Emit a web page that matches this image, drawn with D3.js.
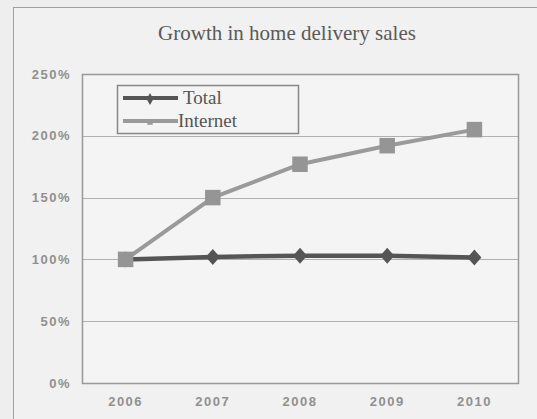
<!DOCTYPE html>
<html>
<head>
<meta charset="utf-8">
<script src="https://cdn.jsdelivr.net/npm/d3@7"></script>
<style>
  html, body { margin: 0; padding: 0; background: #eeeeee; }
  svg { display: block; }
</style>
</head>
<body>
<div id="chart"></div>
<script>
// chart values
var years = ['2006', '2007', '2008', '2009', '2010'];
var totalValues = [100, 102, 103, 103, 101.5];
var internetValues = [100, 150, 177, 192, 205];
var yTicks = [0, 50, 100, 150, 200, 250];
var seriesNames = ['Total', 'Internet'];

var W = 537, H = 419,
    plot = {left: 82, right: 518, top: 74, bottom: 383};

var svg = d3.select('#chart').append('svg').attr('width', W).attr('height', H);

// outer frame (only top and left edges fall inside the view)
svg.append('rect')
  .attr('x', 13.5).attr('y', 7.5).attr('width', W + 20).attr('height', H + 20)
  .attr('fill', '#f1f1f1').attr('stroke', '#a0a0a0').attr('stroke-width', 1);

svg.append('text')
  .attr('x', 287).attr('y', 40)
  .attr('text-anchor', 'middle')
  .style('font-family', '"Liberation Serif", "Times New Roman", serif')
  .style('font-size', '21px')
  .attr('fill', '#5a5a5a')
  .text('Growth in home delivery sales');

var x = d3.scaleBand().domain(years).range([plot.left, plot.right]);
var y = d3.scaleLinear().domain([0, 250]).range([plot.bottom, plot.top]);

// plot area
svg.append('rect')
  .attr('x', plot.left + 0.5).attr('y', plot.top + 0.5)
  .attr('width', plot.right - plot.left).attr('height', plot.bottom - plot.top)
  .attr('fill', '#f4f4f4');

// gridlines
svg.append('g').selectAll('line').data(yTicks).enter().append('line')
  .attr('x1', plot.left).attr('x2', plot.right)
  .attr('y1', function (d) { return Math.round(y(d)) + 0.5; })
  .attr('y2', function (d) { return Math.round(y(d)) + 0.5; })
  .attr('stroke', '#b0b0b0').attr('stroke-width', 1);

svg.append('rect')
  .attr('x', plot.left + 0.5).attr('y', plot.top + 0.5)
  .attr('width', plot.right - plot.left).attr('height', plot.bottom - plot.top)
  .attr('fill', 'none').attr('stroke', '#999').attr('stroke-width', 1.5);

var labelStyle = function (sel) {
  sel.style('font-family', '"Liberation Sans", Arial, sans-serif')
    .style('font-size', '13px')
    .style('font-weight', 'bold')
    .style('letter-spacing', '1.5px')
    .attr('fill', '#909090');
};

// y axis
var yAxis = svg.append('g')
  .attr('transform', 'translate(' + plot.left + ',0)')
  .call(d3.axisLeft(y).tickValues(yTicks).tickSize(0).tickPadding(11)
    .tickFormat(function (d) { return d + '%'; }));
yAxis.select('.domain').remove();
yAxis.selectAll('text').call(labelStyle);

// x axis
var xAxis = svg.append('g')
  .attr('transform', 'translate(0,' + plot.bottom + ')')
  .call(d3.axisBottom(x).tickSize(0).tickPadding(14));
xAxis.select('.domain').remove();
xAxis.selectAll('text').call(labelStyle);

var line = d3.line()
  .x(function (d, i) { return x(years[i]) + x.bandwidth() / 2; })
  .y(function (d) { return y(d); });

var diamond = 'M0,-8L7,0L0,8L-7,0Z';

// Total series
svg.append('path').datum(totalValues)
  .attr('d', line).attr('fill', 'none')
  .attr('stroke', '#555').attr('stroke-width', 4.5);
svg.append('g').selectAll('path').data(totalValues).enter().append('path')
  .attr('transform', function (d, i) {
    return 'translate(' + (x(years[i]) + x.bandwidth() / 2) + ',' + y(d) + ')';
  })
  .attr('d', diamond)
  .attr('fill', '#555');

// Internet series
svg.append('path').datum(internetValues)
  .attr('d', line).attr('fill', 'none')
  .attr('stroke', '#9a9a9a').attr('stroke-width', 4);
svg.append('g').selectAll('path').data(internetValues).enter().append('path')
  .attr('transform', function (d, i) {
    return 'translate(' + (x(years[i]) + x.bandwidth() / 2) + ',' + y(d) + ')';
  })
  .attr('d', d3.symbol().type(d3.symbolSquare).size(240))
  .attr('fill', '#959595');

// legend
var legend = svg.append('g');
legend.append('rect')
  .attr('x', 117.5).attr('y', 85.5).attr('width', 181).attr('height', 48)
  .attr('fill', '#f4f4f4').attr('stroke', '#888').attr('stroke-width', 1.5);

var legendColors = ['#555', '#9a9a9a'];
var legendRows = legend.selectAll('g.key').data(seriesNames).enter().append('g')
  .attr('class', 'key')
  .attr('transform', function (d, i) { return 'translate(0,' + (98 + i * 23) + ')'; });
legendRows.append('line')
  .attr('x1', 123).attr('x2', 178).attr('y1', 0).attr('y2', 0)
  .attr('stroke', function (d, i) { return legendColors[i]; })
  .attr('stroke-width', 4);
legendRows.append('path')
  .attr('transform', 'translate(150,1)')
  .attr('d', function (d, i) {
    return d3.symbol().type(i ? d3.symbolSquare : d3.symbolDiamond).size(i ? 30 : 40)();
  })
  .attr('fill', function (d, i) { return legendColors[i]; });
legendRows.append('text')
  .attr('x', function (d, i) { return i ? 178 : 183; }).attr('y', 6)
  .style('font-family', '"Liberation Serif", "Times New Roman", serif')
  .style('font-size', '19px')
  .attr('fill', '#555')
  .text(function (d) { return d; });
</script>
</body>
</html>
